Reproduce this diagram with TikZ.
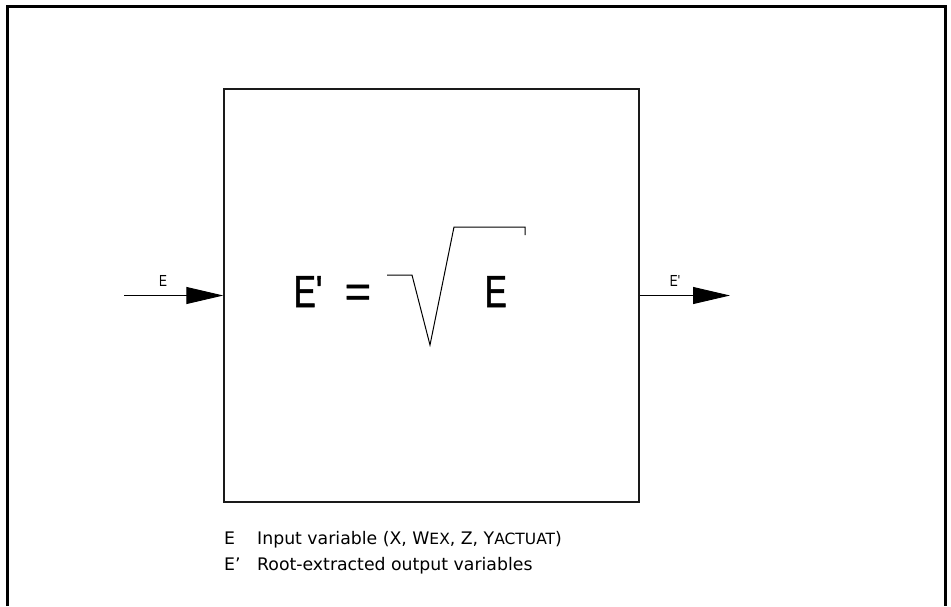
\documentclass[tikz,border=0pt]{standalone}
\usepackage{fontspec}
\setmainfont{DejaVu Sans}[Ligatures=TeXOff]
\newfontfamily\darYazi{Liberation Sans}[FakeStretch=0.74,Ligatures=TeXOff]
\newfontfamily\formulYazi{Liberation Sans}[FakeStretch=0.74,FakeBold=1.1,Ligatures=TeXOff]
\newfontfamily\esitYazi{Liberation Sans}[FakeBold=1.1]
\usetikzlibrary{arrows.meta,calc}
\definecolor{cizgiKoyu}{HTML}{1A1A1A}
\newcommand{\kucukHarf}[1]{\raisebox{-0.6pt}{\fontsize{15.5}{16}\selectfont #1}}

\begin{document}
\begin{tikzpicture}[x=1pt,y=-1pt,
  sinyal/.style={line width=0.9pt,-{Triangle[length=37pt,width=17pt]}},
  etiket/.style={font=\darYazi\fontsize{16}{18}\selectfont,inner sep=0pt},
  buyukYazi/.style={font=\formulYazi\fontsize{45}{50}\selectfont,inner sep=0pt,anchor=base west},
  aciklama/.style={font=\fontsize{17.3}{20}\selectfont,inner sep=0pt,anchor=base west}]
\useasboundingbox (0,0) rectangle (951,606);
% dis cerceve (alt acik)
\draw[line width=3pt] (7,606) -- (7,6) -- (945,6) -- (945,606);
% blok
\node[draw=cizgiKoyu,line width=1.4pt,minimum width=415pt,minimum height=413pt,inner sep=0pt] (blok) at (431.5,295.5) {};
% giris ve cikis
\coordinate (giris) at (124,295.5);
\coordinate (cikis) at (730,295.5);
\draw[sinyal] (giris) -- (blok.west);
\draw[sinyal] (blok.east) -- (cikis);
\node[etiket] (girisEtiket) at (163,281) {E};
\node[etiket] (cikisEtiket) at (675,281) {E'};
% formul E' = kok(E)
\node[buyukYazi] (formulSol) at (293.5,307) {E'};
\node[buyukYazi,font=\esitYazi\fontsize{45}{50}\selectfont] (formulEsit) at (344.5,307) {=};
\node[buyukYazi] (formulE) at (484.5,307) {E};
\draw[line width=1pt] (387,275) -- (412,275) -- (430,345) -- (454,227) -- (525,227) -- (525,235);
% aciklamalar
\node[aciklama] (anahtarE) at (224,544) {E};
\node[aciklama] (metinE) at (257,544) {Input variable (X, W\kucukHarf{EX}, Z, Y\kucukHarf{ACTUAT})};
\node[aciklama] (anahtarE2) at (224,570) {E’};
\node[aciklama] (metinE2) at (257,570) {Root-extracted output variables};
\end{tikzpicture}
\end{document}
